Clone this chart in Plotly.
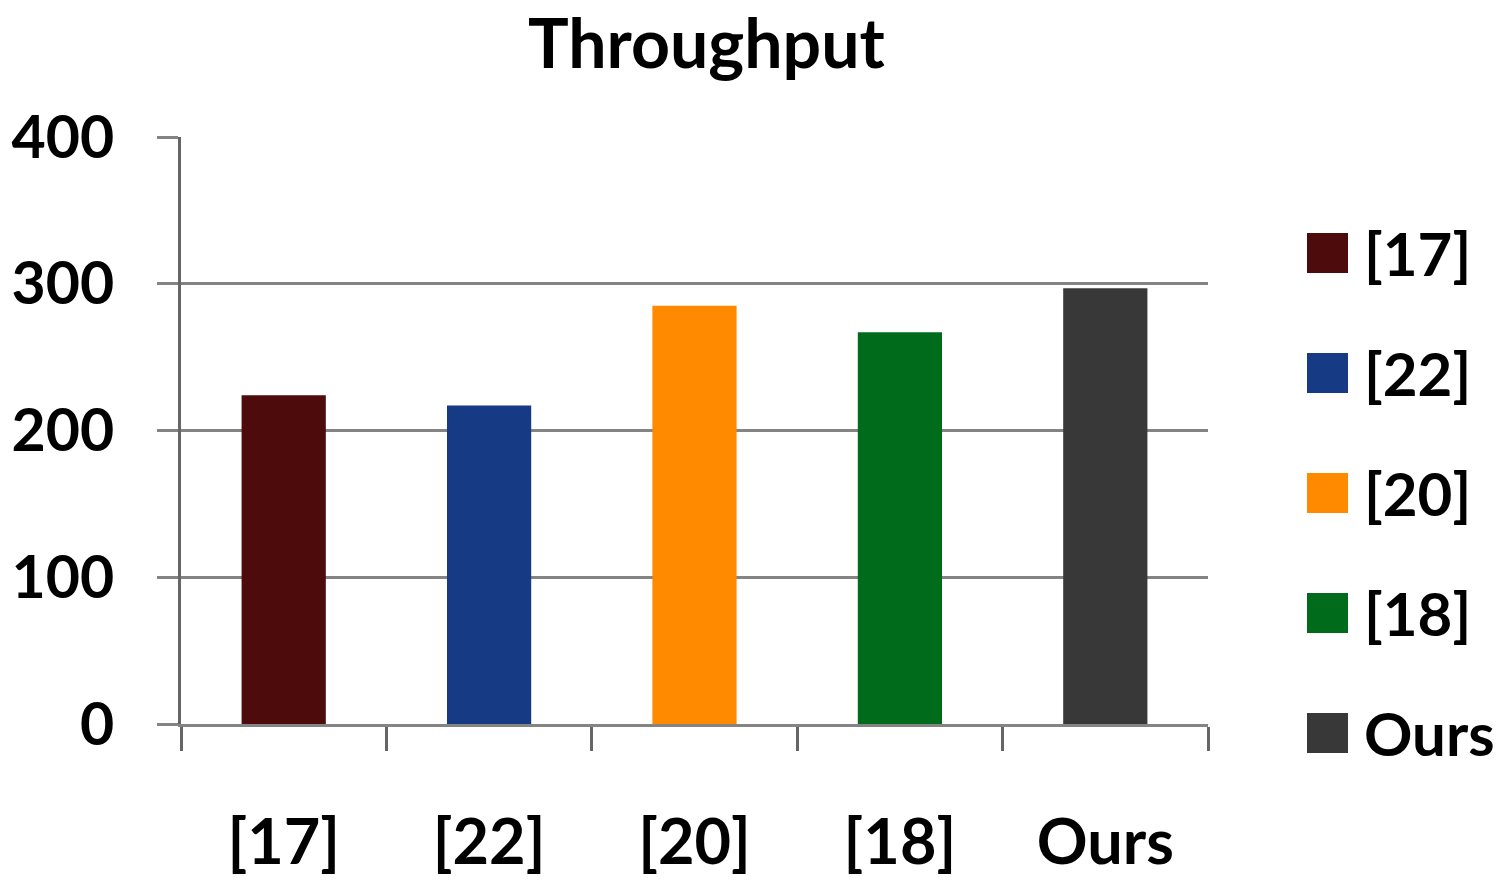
import plotly.graph_objects as go

categories = ['[17]', '[22]', '[20]', '[18]', 'Ours']
throughput = [224, 217, 285, 267, 297]
colors = ['#4e0b0b', '#163a84', '#ff8a00', '#006b1b', '#383838']

FONT = 'Lato'
GRID = '#848484'
TICK_FONT = dict(family=FONT, size=63, color='black', weight='bold')
YTICK_FONT = dict(family=FONT, size=59, color='black', weight='bold')
LEGEND_FONT = dict(family=FONT, size=60, color='black', weight='bold')

# page has an 8px body margin, so the figure is drawn slightly smaller
OFF = 8
FIG_W, FIG_H = 1504 - OFF, 882 - OFF

fig = go.Figure()
for cat, val, col in zip(categories, throughput, colors):
    fig.add_trace(go.Bar(x=[cat], y=[val], name=cat, marker_color=col,
                         marker_line_width=0, width=0.41, showlegend=False))

# plot area in screen pixels, used to place the hand-made legend
L, R, T, B = 181, 1208, 137, 724
W, H = R - L, B - T

def px_x(x):
    return (x - L) / W

def px_y(y):
    return (B - y) / H

for i, (cat, col) in enumerate(zip(categories, colors)):
    cy = 253 + i * 120
    fig.add_shape(type='rect', xref='paper', yref='paper',
                  x0=px_x(1307), x1=px_x(1348), y0=px_y(cy + 20), y1=px_y(cy - 20),
                  fillcolor=col, line_width=0)
    fig.add_annotation(x=px_x(1362), y=px_y(cy), xref='paper', yref='paper',
                       text=cat, showarrow=False, xanchor='left', yanchor='middle',
                       font=LEGEND_FONT)

# title as an annotation so its box sits fully inside the page
fig.add_annotation(x=(706 - L) / W, y=px_y(42), xref='paper', yref='paper',
                   text='Throughput', showarrow=False, xanchor='center', yanchor='middle',
                   font=dict(family=FONT, size=68, color='black', weight='bold'))

fig.update_layout(
    width=FIG_W, height=FIG_H,
    margin=dict(l=L - OFF, r=FIG_W - (R - OFF), t=T - OFF, b=FIG_H - (B - OFF)),
    paper_bgcolor='white', plot_bgcolor='white',
    barmode='overlay',
    font=dict(family=FONT, size=63, color='black', weight='bold'),
)
fig.update_xaxes(
    type='category', showgrid=False, showline=True, linecolor=GRID, linewidth=3,
    ticks='outside', tickson='boundaries', ticklen=24, tickwidth=3, tickcolor='#666666',
    ticklabelstandoff=61, tickfont=TICK_FONT, automargin=False,
)
fig.update_yaxes(
    range=[0, 400], dtick=100, showgrid=True, gridcolor=GRID, gridwidth=3,
    showline=True, linecolor='#666666', linewidth=3, zeroline=False,
    ticks='outside', ticklen=21, tickwidth=3, tickcolor=GRID,
    ticklabelstandoff=31, tickfont=YTICK_FONT, automargin=False,
)

fig.write_html('out.html')
